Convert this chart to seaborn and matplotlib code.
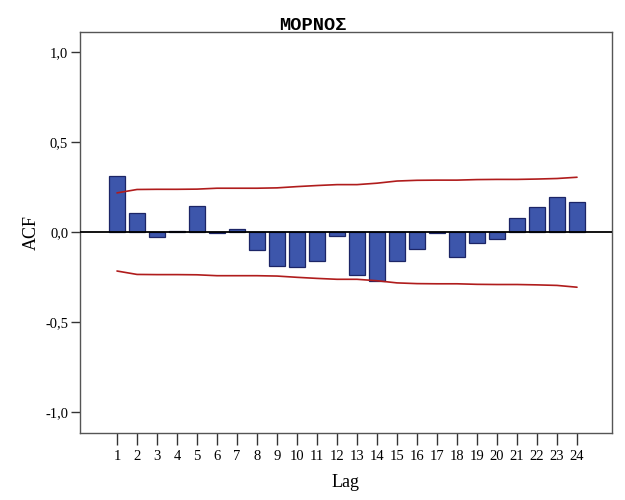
import matplotlib
matplotlib.use("Agg")
import matplotlib.pyplot as plt
import seaborn as sns
import pandas as pd
import numpy as np

title = "ΜΟΡΝΟΣ"
lags = list(range(1, 25))
acf = [0.313, 0.104, -0.026, 0.005, 0.146, -0.005, 0.017, -0.098, -0.189, -0.194,
       -0.163, -0.024, -0.237, -0.270, -0.163, -0.096, -0.005, -0.137, -0.063, -0.037,
       0.078, 0.137, 0.193, 0.167]
upper = [0.217, 0.236, 0.237, 0.237, 0.238, 0.243, 0.243, 0.243, 0.245, 0.252,
         0.258, 0.263, 0.263, 0.271, 0.283, 0.287, 0.288, 0.288, 0.291, 0.292,
         0.292, 0.294, 0.297, 0.304]
lower = [-0.217, -0.236, -0.237, -0.237, -0.238, -0.243, -0.243, -0.243, -0.245, -0.252,
         -0.258, -0.263, -0.263, -0.271, -0.283, -0.287, -0.288, -0.288, -0.291, -0.292,
         -0.292, -0.294, -0.297, -0.307]
yticks = [-1.0, -0.5, 0.0, 0.5, 1.0]
ytick_labels = ["-1,0", "-0,5", "0,0", "0,5", "1,0"]

sns.set_theme(style="white")
plt.rcParams['font.family'] = ['Liberation Serif', 'DejaVu Serif']
plt.rcParams['text.color'] = 'black'
plt.rcParams['axes.labelcolor'] = 'black'
plt.rcParams['xtick.color'] = 'black'
plt.rcParams['ytick.color'] = 'black'

fig = plt.figure(figsize=(6.25, 5), dpi=100)
ax = fig.add_axes([0.128, 0.134, 0.8512, 0.802])

df = pd.DataFrame({"Lag": lags, "ACF": acf, "upper": upper, "lower": lower})

sns.barplot(data=df, x="Lag", y="ACF", native_scale=True, width=0.78,
            color="#3d56ab", saturation=1, edgecolor="#1c2566", linewidth=0.9, ax=ax)
sns.lineplot(data=df, x="Lag", y="upper", color="#b01c1c", linewidth=1.2, ax=ax)
sns.lineplot(data=df, x="Lag", y="lower", color="#b01c1c", linewidth=1.2, ax=ax)
ax.axhline(0, color="black", linewidth=1.3, zorder=3)

ax.set_xlim(-0.85, 25.75)
ax.set_ylim(-1.117, 1.111)
ax.set_xticks(lags)
ax.set_xticklabels([str(l) for l in lags], fontsize=10.5)
ax.set_yticks(yticks)
ax.set_yticklabels(ytick_labels, fontsize=10.5)
ax.tick_params(axis="x", direction="out", length=8.5, width=1, color="#333333", pad=3.5, bottom=True)
ax.tick_params(axis="y", direction="out", length=6.5, width=1, color="#333333", pad=2, left=True)

for s in ax.spines.values():
    s.set_color("#555555")
    s.set_linewidth(1.0)

ax.set_xlabel("Lag", fontsize=13, labelpad=8)
ax.set_ylabel("ACF", fontsize=13, labelpad=4)
fig.text(0.5, 1 - 30 / 500, title, fontsize=13.5, fontweight="bold",
         family=["Liberation Mono", "DejaVu Sans Mono"], ha="center", va="baseline",
         color="black")

fig.savefig("out.png", dpi=100)
